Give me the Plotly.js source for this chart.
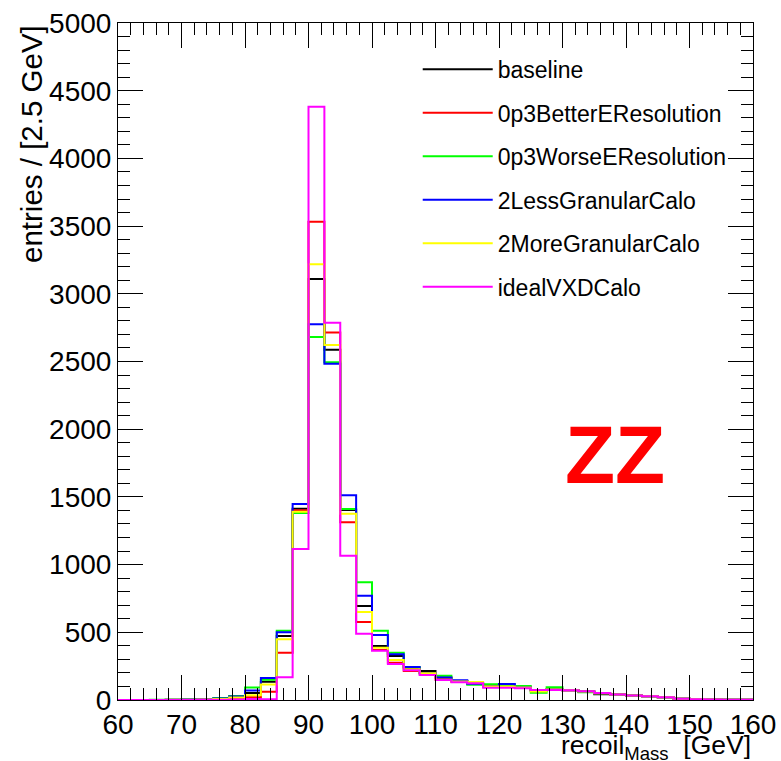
<!DOCTYPE html>
<html>
<head>
<meta charset="utf-8">
<script src="https://cdn.plot.ly/plotly-3.0.1.min.js"></script>
<style>
html,body{margin:0;padding:0;background:#fff;}
#chart{width:781px;height:761px;}
</style>
</head>
<body>
<div id="chart"></div>
<script>
// bin edges of recoil mass histogram (GeV), 2.5 GeV bins
var binEdges = [60,62.5,65,67.5,70,72.5,75,77.5,80,82.5,85,87.5,90,92.5,95,97.5,100,102.5,105,107.5,
                110,112.5,115,117.5,120,122.5,125,127.5,130,132.5,135,137.5,140,142.5,145,147.5,150,152.5,155,157.5,160];

var seriesNames = ["baseline","0p3BetterEResolution","0p3WorseEResolution","2LessGranularCalo","2MoreGranularCalo","idealVXDCalo"];
var seriesColors = ["#000000","#ff0000","#00ff00","#0000ff","#ffff00","#ff00ff"];

var baseline = [0,0,0,1,2,4,8,20,52,135,473,1413,3109,2587,1403,694,399,325,235,214,
                167,140,120,100,105,95,72,78,72,62,42,40,34,27,20,10,5,3,2,1];
var betterERes = [0,0,0,0,1,2,4,10,20,61,349,1401,3532,2715,1312,576,370,275,214,197,
                  160,135,120,100,100,92,72,76,72,62,50,40,34,27,20,10,5,3,2,1];
var worseERes = [0,0,1,2,4,8,15,30,92,150,512,1381,2681,2495,1410,869,512,349,244,197,
                 180,140,113,116,103,103,54,94,74,58,50,38,34,27,20,10,5,3,2,1];
var lessGranular = [0,0,0,1,3,6,12,25,70,162,500,1447,2775,2484,1512,770,480,337,244,197,
                    167,145,120,100,118,95,70,78,72,62,50,40,34,27,20,10,5,3,2,1];
var moreGranular = [0,0,0,1,2,4,8,18,36,115,448,1390,3218,2622,1376,650,386,295,227,197,
                    150,137,133,100,100,92,62,78,72,62,50,40,34,27,20,10,5,3,2,1];
var idealVXD = [0,0,0,0,0,1,2,4,7,5,168,1115,4381,2786,1066,490,364,266,220,185,
                148,131,123,91,91,86,74,74,72,64,52,40,34,27,20,10,5,3,2,1];

var seriesValues = [baseline, betterERes, worseERes, lessGranular, moreGranular, idealVXD];

var traces = seriesValues.map(function(vals, i){
  return {
    type: 'scatter',
    mode: 'lines',
    x: binEdges,
    y: vals.concat([vals[vals.length-1]]),
    line: {shape: 'hv', color: seriesColors[i], width: 2},
    name: seriesNames[i],
    legendgroup: 'g' + i
  };
});

var fontFam = '"Liberation Sans", Arial, Helvetica, sans-serif';

var layout = {
  width: 781, height: 761,
  margin: {l: 118, r: 28, t: 23, b: 61, pad: 0},
  paper_bgcolor: '#ffffff',
  plot_bgcolor: '#ffffff',
  font: {family: fontFam, color: '#000'},
  showlegend: true,
  legend: {
    x: 0.472, y: 0.9634, xanchor: 'left', yanchor: 'top',
    bgcolor: 'rgba(255,255,255,0)',
    font: {family: fontFam, size: 23, color: '#000'},
    itemwidth: 70,
    tracegroupgap: 10.6
  },
  xaxis: {
    range: [60, 160],
    tick0: 60, dtick: 10,
    ticks: 'inside', ticklen: 25, tickwidth: 1, tickcolor: '#000',
    minor: {dtick: 2, ticks: 'inside', ticklen: 12, tickwidth: 1, tickcolor: '#000'},
    showline: true, linecolor: '#000', linewidth: 1, mirror: 'ticks',
    showgrid: false, zeroline: false,
    ticklabelstandoff: -1,
    tickfont: {family: fontFam, size: 28, color: '#000'}
  },
  yaxis: {
    range: [0, 5000],
    tick0: 0, dtick: 500,
    ticks: 'inside', ticklen: 25, tickwidth: 1, tickcolor: '#000',
    minor: {dtick: 100, ticks: 'inside', ticklen: 12, tickwidth: 1, tickcolor: '#000'},
    showline: true, linecolor: '#000', linewidth: 1, mirror: 'ticks',
    showgrid: false, zeroline: false,
    tickfont: {family: fontFam, size: 28, color: '#000'}
  },
  annotations: [
    {
      text: 'entries / [2.5 GeV]',
      xref: 'paper', yref: 'paper',
      x: -0.137, y: 1.0, xanchor: 'center', yanchor: 'top',
      textangle: -90, showarrow: false,
      font: {family: fontFam, size: 29.5, color: '#000'}
    },
    {
      text: 'recoil<sub>Mass</sub>  [GeV]',
      xref: 'paper', yref: 'paper',
      x: 1.0, y: -0.0694, xanchor: 'right', yanchor: 'middle',
      showarrow: false,
      font: {family: fontFam, size: 26.5, color: '#000'}
    },
    {
      text: '<b>ZZ</b>',
      xref: 'paper', yref: 'paper',
      x: 0.7827, y: 0.362, xanchor: 'center', yanchor: 'middle',
      showarrow: false,
      font: {family: fontFam, size: 82, color: '#ff0000'}
    }
  ]
};

Plotly.newPlot('chart', traces, layout, {displayModeBar: false, staticPlot: true});
</script>
</body>
</html>
